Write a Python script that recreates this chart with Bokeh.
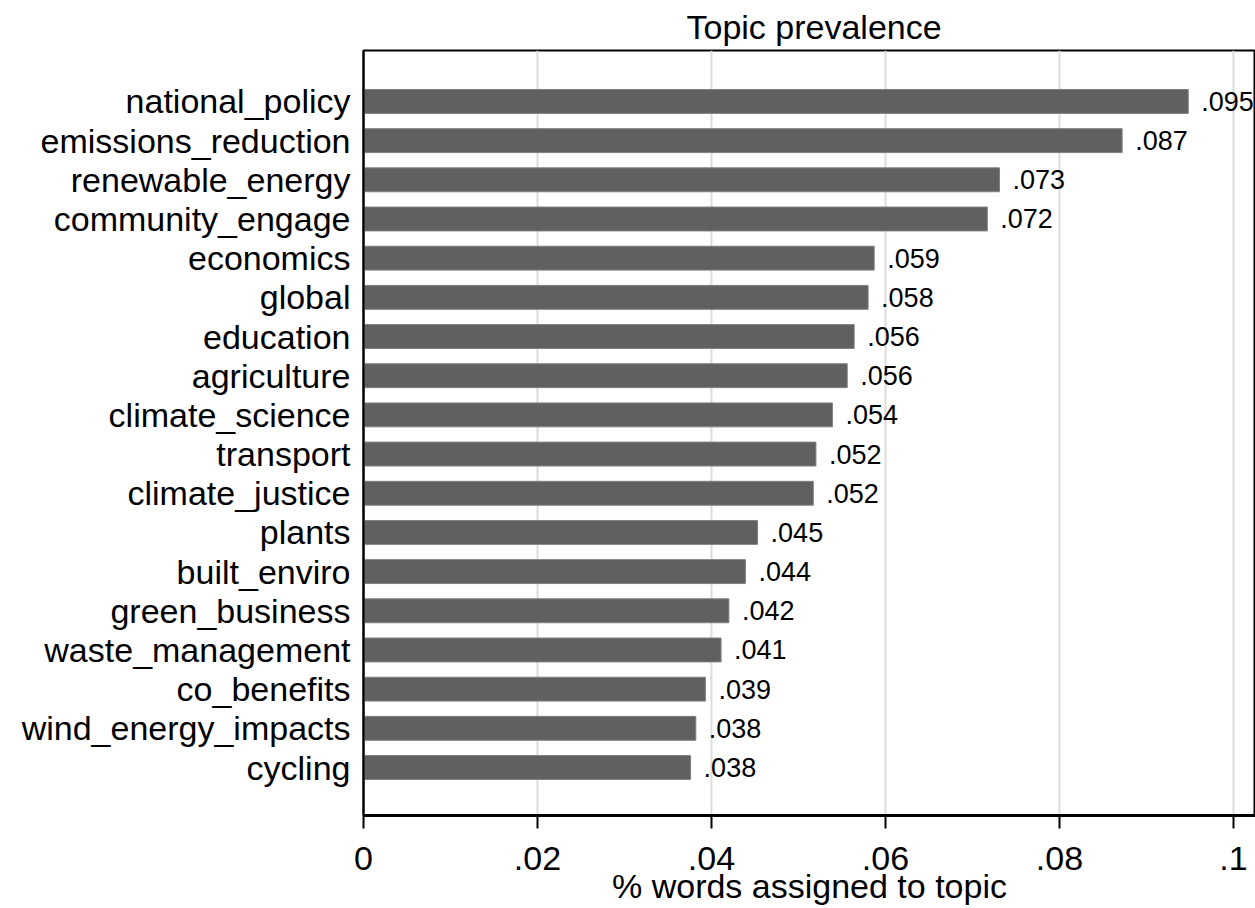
from bokeh.plotting import figure
from bokeh.models import Range1d, FixedTicker, ColumnDataSource
from bokeh.core.properties import value
from bokeh.embed import file_html
from bokeh.resources import INLINE

topics = ["national_policy", "emissions_reduction", "renewable_energy", "community_engage",
          "economics", "global", "education", "agriculture", "climate_science", "transport",
          "climate_justice", "plants", "built_enviro", "green_business", "waste_management",
          "co_benefits", "wind_energy_impacts", "cycling"]
prevalence = [0.0948, 0.0872, 0.0731, 0.0717, 0.0587, 0.0580, 0.0564, 0.0556, 0.0539, 0.0520,
              0.0517, 0.0453, 0.0439, 0.0420, 0.0411, 0.0393, 0.0382, 0.0376]
x_ticks = [0, 0.02, 0.04, 0.06, 0.08, 0.1]
x_tick_labels = ["0", ".02", ".04", ".06", ".08", ".1"]
x_title = "% words assigned to topic"

FONT = "Liberation Sans"
n = len(topics)
ypos = [n - i for i in range(n)]
labels = [("%.3f" % v).lstrip("0") for v in prevalence]
src = ColumnDataSource(dict(y=ypos, v=prevalence, lab=labels))

p = figure(width=1255, height=908, output_backend="svg", toolbar_location=None,
           x_range=Range1d(0, 0.10253), y_range=Range1d(-0.225, n + 1.3),
           min_border_left=363, min_border_right=0, min_border_top=50, min_border_bottom=93,
           title="Topic prevalence")
p.background_fill_color = "white"
p.border_fill_color = "white"
p.outline_line_color = "black"
p.outline_line_width = 2

p.title.text_font = FONT
p.title.text_font_size = "34px"
p.title.text_font_style = "normal"
p.title.text_color = "black"
p.title.align = "left"
p.title.offset = 323

p.hbar(y="y", right="v", left=0, height=0.61, source=src,
       fill_color="#606060", line_color="#808080", line_width=1)
p.text(x="v", y="y", text="lab", source=src, x_offset=13, text_baseline="middle",
       text_align="left", text_font=value(FONT), text_font_size="27px", text_color="black")

# x axis
p.xaxis.ticker = FixedTicker(ticks=x_ticks)
p.xaxis.major_label_overrides = {t: l for t, l in zip(x_ticks, x_tick_labels)}
p.xaxis.major_label_text_font = FONT
p.xaxis.major_label_text_font_size = "34px"
p.xaxis.major_label_text_color = "black"
p.xaxis.major_label_standoff = 18
p.xaxis.axis_line_color = "black"
p.xaxis.axis_line_width = 3
p.xaxis.major_tick_line_color = "black"
p.xaxis.major_tick_line_width = 2
p.xaxis.major_tick_in = 0
p.xaxis.major_tick_out = 13
p.xaxis.minor_tick_line_color = None
p.xaxis.axis_label = x_title
p.xaxis.axis_label_text_font = FONT
p.xaxis.axis_label_text_font_size = "34px"
p.xaxis.axis_label_text_font_style = "normal"
p.xaxis.axis_label_text_color = "black"
p.xaxis.axis_label_standoff = -6

# y axis
p.yaxis.ticker = FixedTicker(ticks=ypos)
p.yaxis.major_label_overrides = {y: t for y, t in zip(ypos, topics)}
p.yaxis.major_label_text_font = FONT
p.yaxis.major_label_text_font_size = "34px"
p.yaxis.major_label_text_color = "black"
p.yaxis.major_label_standoff = 7
p.yaxis.axis_line_color = "black"
p.yaxis.axis_line_width = 2
p.yaxis.major_tick_line_color = None
p.yaxis.minor_tick_line_color = None

p.xgrid.ticker = FixedTicker(ticks=x_ticks)
p.xgrid.grid_line_color = "#dcdcdc"
p.xgrid.grid_line_width = 2
p.ygrid.grid_line_color = None

open("out.html", "w").write(file_html(p, INLINE))
